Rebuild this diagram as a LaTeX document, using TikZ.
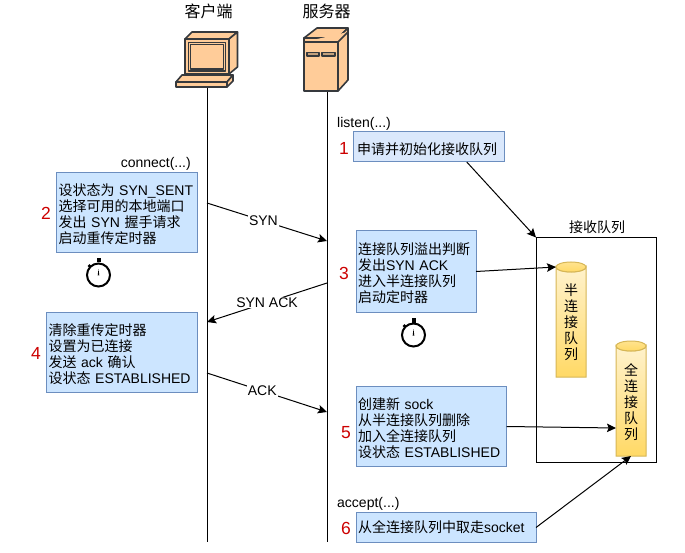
\documentclass[tikz,border=0pt]{standalone}
\usepackage{fontspec}
\setmainfont{Liberation Sans}
\newfontfamily\cjkfont{Noto Sans CJK SC}
\newcommand{\zh}[1]{{\cjkfont #1}}
\usetikzlibrary{arrows.meta,calc}
\definecolor{icondark}{HTML}{36393D}
\definecolor{iconfill}{HTML}{FFCC99}
\definecolor{boxedge}{HTML}{6C8EBF}
\definecolor{boxfill}{HTML}{CCE5FF}
\definecolor{boxlight}{HTML}{DAE8FC}
\definecolor{cylinderedge}{HTML}{D6B656}
\definecolor{cylindertop}{HTML}{FFF2CC}
\definecolor{cylinderbottom}{HTML}{FFD966}
\definecolor{stepred}{HTML}{CC0000}
\tikzset{
  body/.style={font=\fontsize{14}{16}\selectfont},
  infobox/.style={body, draw=boxedge, fill=boxfill, line width=1pt, anchor=north west,
    align=left, inner xsep=2pt, inner ysep=0pt, outer sep=0pt},
  % taller first line, which lowers a centred block of text a little
  firstline/.style={execute at begin node={\rule{0pt}{#1}\ignorespaces}},
  stepno/.style={font=\fontsize{17.5}{18}\selectfont, text=stepred, inner sep=0pt},
  caption/.style={body, inner sep=0pt},
  lifeline/.style={line width=1pt, draw=black},
  msg/.style={line width=1pt, draw=black, -{Stealth[length=9pt,width=8.5pt,inset=1.6pt]}},
  msglabel/.style={body, fill=white, inner xsep=1pt, inner ysep=1pt},
  icon/.style={draw=icondark, fill=iconfill, line width=1.6pt, line join=round},
  qslot/.style={minimum width=30pt, inner sep=0pt, outer sep=0pt, align=center, anchor=north west,
    font=\fontsize{14}{16}\selectfont\cjkfont},
  stopwatch/.pic={
    \draw[line width=2pt, draw=black, fill=white] (0,0) circle (11.5);
    \fill[black] (-2,-17) rectangle (2,-12.5);
    \draw[line width=2.5pt, black] (-10,-10) -- (-8.5,-8.5);
    \fill[black] (-0.8,0.5) -- (0,-6) -- (0.8,0.5) -- cycle;
  }
}
\begin{document}
\begin{tikzpicture}[x=1pt,y=-1pt]
\useasboundingbox (0,0) rectangle (685,553);

% end points of the two lifelines and of the messages between them
\coordinate (clientTop) at (207,87);
\coordinate (clientEnd) at (207,542);
\coordinate (serverTop) at (327,91);
\coordinate (serverEnd) at (327,542);
\coordinate (synA) at (207,203);
\coordinate (synB) at (327,241);
\coordinate (sackA) at (327,283);
\coordinate (sackB) at (207,322);
\coordinate (ackA) at (207,373);
\coordinate (ackB) at (327,412);

\draw[lifeline] (clientTop) -- (clientEnd);
\draw[lifeline] (serverTop) -- (serverEnd);

% host headings
\node[inner sep=0pt, font=\fontsize{16}{16}\selectfont\cjkfont] (clientName) at (208.5,11.5) {客户端};
\node[inner sep=0pt, font=\fontsize{16}{16}\selectfont\cjkfont] (serverName) at (326.5,11.5) {服务器};

% client workstation
\draw[icon] (185,39) -- (192,32) -- (237.5,32) -- (229,39) -- cycle;
\draw[icon] (229,39) -- (237.5,32) -- (237.5,67) -- (229,74) -- cycle;
\draw[icon] (185,39) rectangle (229,74);
\draw[icon] (188.5,42.5) rectangle (225.5,71);
\draw[icon, line width=1.2pt] (190.5,44.5) rectangle (223.5,69);
\draw[icon] (176,82) -- (182,75) -- (233,75) -- (227,82) -- cycle;
\draw[icon] (227,82) -- (233,75) -- (233,81) -- (227,87) -- cycle;
\draw[icon] (176,82) rectangle (227,87);

% server tower
\draw[icon] (304,38) -- (317,28) -- (348,28) -- (338,38) -- cycle;
\draw[icon] (338,38) -- (348,28) -- (348,80) -- (338,91) -- cycle;
\draw[icon] (304,38) rectangle (338,91);
\draw[icon] (304,42) -- (338,42) -- (348,32);
\draw[icon, line width=1.2pt, fill=iconfill!70!icondark] (307,52.5) rectangle (319,56);
\draw[icon, line width=1.2pt, fill=iconfill!70!icondark] (322,52.5) rectangle (335,56);

% receive queue frame
\node[draw=black, line width=1pt, minimum width=120pt, minimum height=224.5pt, inner sep=0pt,
      outer sep=0pt, anchor=north west] (queue) at (536,237.5) {};
\node[inner sep=0pt, font=\fontsize{14}{16}\selectfont\cjkfont] (queueName) at (597,227.5) {接收队列};

% the two cylinders inside the frame
\shade[top color=cylindertop, bottom color=cylinderbottom, draw=cylinderedge, line width=1pt]
  (556,267) arc[start angle=180, end angle=360, x radius=15, y radius=-5] -- (586,377) -- (556,377) -- cycle;
\shade[top color=cylinderbottom!60!cylindertop, bottom color=cylinderbottom, draw=cylinderedge, line width=1pt]
  (571,267) ellipse[x radius=15, y radius=5];
\shade[top color=cylindertop, bottom color=cylinderbottom, draw=cylinderedge, line width=1pt]
  (616,346) arc[start angle=180, end angle=360, x radius=15, y radius=-5] -- (646,456) -- (616,456) -- cycle;
\shade[top color=cylinderbottom!60!cylindertop, bottom color=cylinderbottom, draw=cylinderedge, line width=1pt]
  (631,346) ellipse[x radius=15, y radius=5];
\node[qslot, minimum height=115pt] (halfq) at (556,262) {\\[2pt]半\\连\\接\\队\\列};
\node[qslot, minimum height=115pt] (fullq) at (616,341) {\\[3pt]全\\连\\接\\队\\列};

% call names
\node[caption, anchor=west] (listenName) at (337,124) {listen(...)};
\node[caption, anchor=east] (connectName) at (191,164) {connect(...)};
\node[caption, anchor=west] (acceptName) at (337,504) {accept(...)};

% step boxes
\node[infobox, fill=boxlight, text width=143.5pt, minimum height=30pt, inner xsep=3.5pt] (box1) at (353.5,132)
  {\hspace{6.5pt}\zh{申请并初始化接收队列}};
\node[infobox, firstline=14.5pt, text width=136.5pt, minimum height=80pt] (box2) at (56.5,172.5)
  {\zh{设状态为} SYN\_SENT\\\zh{选择可用的本地端口}\\\zh{发出} SYN \zh{握手请求}\\\zh{启动重传定时器}};
\node[infobox, firstline=15.7pt, text width=116pt, minimum height=81pt] (box3) at (356,231)
  {\zh{连接队列溢出判断}\\\zh{发出}SYN ACK\\\zh{进入半连接队列}\\\zh{启动定时器}};
\node[infobox, firstline=15.7pt, text width=146.5pt, minimum height=80pt] (box4) at (46.5,312.5)
  {\zh{清除重传定时器}\\\zh{设置为已连接}\\\zh{发送} ack \zh{确认}\\\zh{设状态} ESTABLISHED};
\node[infobox, firstline=14.5pt, text width=146.5pt, minimum height=80pt] (box5) at (356,386.5)
  {\zh{创建新} sock\\\zh{从半连接队列删除}\\\zh{加入全连接队列}\\\zh{设状态} ESTABLISHED};
\node[infobox, text width=176pt, minimum height=30pt] (box6) at (356,512.5)
  {\zh{从全连接队列中取走}socket};

% step numbers
\node[stepno] (n1) at (344,148) {1};
\node[stepno] (n2) at (46,213) {2};
\node[stepno] (n3) at (344,273.5) {3};
\node[stepno] (n4) at (36,353) {4};
\node[stepno] (n5) at (346,433) {5};
\node[stepno] (n6) at (346,528) {6};

% timers
\pic at (98.5,275) {stopwatch};
\pic at (413.5,335) {stopwatch};

% messages between the hosts
\draw[msg] (synA) -- node[msglabel, pos=.47] {SYN} (synB);
\draw[msg] (sackA) -- node[msglabel, pos=.5] {SYN ACK} (sackB);
\draw[msg] (ackA) -- node[msglabel, pos=.46] {ACK} (ackB);

% links from the server steps to the queues
\draw[msg] ([xshift=38pt]box1.south) -- (queue.north west);
\draw[msg] (box3.east) -- ([yshift=-5pt]halfq.north west);
\draw[msg] (box5.east) -- ([yshift=-29.5pt]fullq.west);
\draw[msg] (box6.east) -- (fullq.south);
\end{tikzpicture}
\end{document}
